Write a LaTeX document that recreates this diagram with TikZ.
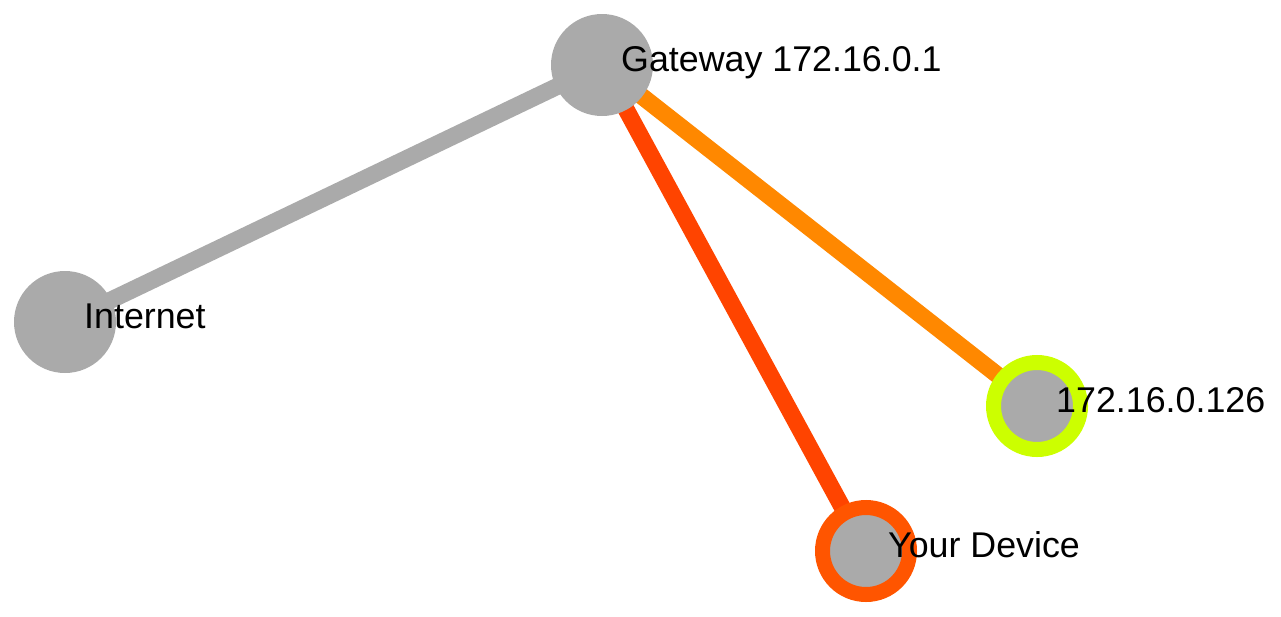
\documentclass[tikz,border=0pt]{standalone}
\usepackage{fontspec}
\setmainfont{Liberation Sans}
\usetikzlibrary{backgrounds}
\definecolor{nodegray}{HTML}{AAAAAA}
\definecolor{ringyellow}{HTML}{CCFF00}
\definecolor{ringorange}{HTML}{FF5500}
\definecolor{edgered}{HTML}{FF4400}
\definecolor{edgeorange}{HTML}{FF8800}
\tikzset{
  host/.style={circle, fill=nodegray, inner sep=0pt, minimum size=102pt},
  ringhost/.style={circle, fill=nodegray, inner sep=0pt, minimum size=87pt, line width=15pt, draw=#1},
  lbl/.style={anchor=base west, inner sep=0pt, font=\fontsize{35.8}{40}\selectfont},
  link/.style={line width=17pt, draw=#1}
}
\begin{document}
\begin{tikzpicture}[x=1pt, y=-1pt]
\useasboundingbox (0,0) rectangle (1281,616);
\node[host] (gw) at (602,65) {};
\node[host] (inet) at (65,322) {};
\node[ringhost=ringyellow] (h126) at (1037,406) {};
\node[ringhost=ringorange] (dev) at (866,551) {};
\begin{scope}[on background layer]
\draw[link=nodegray] (gw.center) -- (inet.center);
\draw[link=edgered] (gw.center) -- (dev.center);
\draw[link=edgeorange] (gw.center) -- (h126.center);
\end{scope}
\node[lbl] (gwl) at (621,71) {Gateway 172.16.0.1};
\node[lbl] (inetl) at (84,328) {Internet};
\node[lbl] (h126l) at (1056,412) {172.16.0.126};
\node[lbl] (devl) at (888,557) {Your Device};
\end{tikzpicture}
\end{document}
